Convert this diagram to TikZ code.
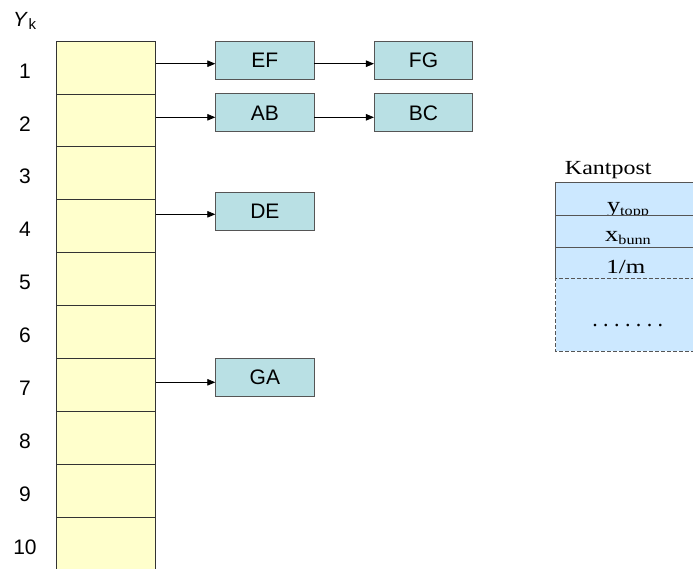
\documentclass[tikz,border=0pt]{standalone}
\usepackage{fontspec}
\setmainfont{Liberation Sans}
\newfontfamily\seriffont{Liberation Serif}
\usetikzlibrary{arrows.meta}

\definecolor{cellyellow}{HTML}{FFFFCC}
\definecolor{edgeteal}{HTML}{B9E0E4}
\definecolor{postblue}{HTML}{CCE8FF}
\definecolor{frame}{HTML}{555555}

% seven spread-out dots for the open part of the record
\newcommand\spreaddots{.\kern5.4pt.\kern5.4pt.\kern5.4pt.\kern5.4pt.\kern5.4pt.\kern5.4pt.}
% main letter with a lowered, smaller index
\newcommand\postfield[2]{#1\raisebox{-3.3pt}{\fontsize{13.5}{15}\selectfont #2}}

\begin{document}
\begin{tikzpicture}[x=1pt,y=-1pt,
  cell/.style={draw=black!80,line width=0.8pt,fill=cellyellow,minimum width=99pt,minimum height=52.9pt,inner sep=0pt},
  rowlabel/.style={font=\fontsize{21}{24}\selectfont,inner sep=0pt},
  edgebox/.style={draw=frame,line width=0.8pt,fill=edgeteal,minimum width=98.3pt,minimum height=38pt,inner sep=0pt,font=\fontsize{21}{24}\selectfont},
  arr/.style={line width=0.8pt,-{Triangle[length=8pt,width=6.5pt]}},
  postcell/.style={fill=postblue,draw=frame,line width=0.8pt,minimum width=138.8pt,inner sep=0pt},
  posttext/.style={font=\seriffont\fontsize{20}{22}\selectfont,inner sep=0pt,anchor=base}
]
\useasboundingbox (0,0) rectangle (693,568);
\clip (0,0) rectangle (693,568);

% bucket table Y_k
\node[anchor=base west,inner sep=0pt] (yk) at (13,26)
  {\fontsize{20.5}{23}\selectfont\textit{Y}\kern0.5pt\raisebox{-3pt}{\fontsize{15}{17}\selectfont k}};
\foreach \i in {1,...,10} {
  \node[cell] (r\i) at (106.2,{41+(\i-0.5)*52.9}) {};
  \node[rowlabel] (l\i) at (25,{41+(\i-0.5)*52.9+3.5}) {\i};
}

% edge boxes
\node[edgebox] (EF) at (264.85,60) {EF};
\node[edgebox] (FG) at (423.5,60) {FG};
\node[edgebox] (AB) at (264.85,112.85) {AB};
\node[edgebox] (BC) at (423.5,112.85) {BC};
\node[edgebox] (DE) at (264.85,211.35) {DE};
\node[edgebox] (GA) at (264.85,377.15) {GA};

% pointers out of the table
\coordinate (a1) at (r1.east |- 0,63.7);
\coordinate (a2) at (r2.east |- 0,117.3);
\coordinate (a4) at (r4.east |- 0,214.3);
\coordinate (a7) at (r7.east |- 0,382.3);
\draw[arr] (a1) -- (a1 -| EF.west);
\draw[arr] (EF.east |- a1) -- (FG.west |- a1);
\draw[arr] (a2) -- (a2 -| AB.west);
\draw[arr] (AB.east |- a2) -- (BC.west |- a2);
\draw[arr] (a4) -- (a4 -| DE.west);
\draw[arr] (a7) -- (a7 -| GA.west);

% edge record layout; each field is drawn before the next cell,
% so the next cell hides the descenders of the index
\node[posttext] (kp) at (608.3,174.3) {\scalebox{1.2}[1]{Kantpost}};
\node[postcell,minimum height=32.7pt] (p1) at (625.1,198.65) {};
\node[posttext] (t1) at (628,212) {\scalebox{1.2}[1]{\fontsize{22}{24}\selectfont\postfield{y}{topp}}};
\node[postcell,minimum height=32.3pt] (p2) at (625.1,231.15) {};
\node[posttext] (t2) at (628,241) {\scalebox{1.2}[1]{\fontsize{22}{24}\selectfont\postfield{x}{bunn}}};
\node[postcell,minimum height=31.7pt] (p3) at (625.1,263.15) {};
\node[posttext] (t3) at (625.8,273.3) {\scalebox{1.25}[1]{1/m}};
\node[postcell,draw=none,minimum height=71.7pt] (p4) at (625.1,314.85) {};
\draw[frame,line width=0.8pt,dash pattern=on 4pt off 2pt]
  (p4.north east) -- (p4.north west) -- (p4.south west) -- (p4.south east);
\node[posttext,font=\seriffont\fontsize{22}{24}\selectfont] (t4) at (627.8,326) {\spreaddots};
\end{tikzpicture}
\end{document}
